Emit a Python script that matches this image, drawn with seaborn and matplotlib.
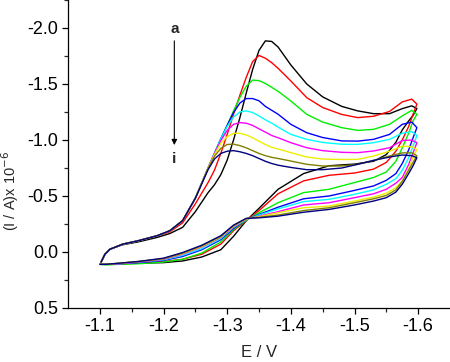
import pandas as pd
import matplotlib
matplotlib.use("Agg")
import matplotlib.pyplot as plt
import seaborn as sns

# potentials (V): forward scan grid ends at the switching tip, reverse grid follows
E_forward = [-1.102, -1.108, -1.116, -1.136, -1.16, -1.19, -1.21, -1.23, -1.25, -1.27,
             -1.28, -1.29, -1.30, -1.31, -1.32, -1.33, -1.34, -1.35, -1.36, -1.37,
             -1.38, -1.40, -1.425, -1.45, -1.48, -1.505, -1.53, -1.555, -1.575, -1.59, -1.598]
E_reverse = [-1.592, -1.585, -1.575, -1.565, -1.55, -1.53, -1.50, -1.46, -1.42, -1.38,
             -1.35, -1.33, -1.31, -1.29, -1.26, -1.23, -1.20, -1.16, -1.13, -1.11, -1.10]

start = [0.09, 0.02, -0.025, -0.07, -0.10, -0.145, -0.19, -0.28, -0.48]

# currents (x 1e-6 A), curves a..i
a_fwd = [0.09, 0.02, -0.025, -0.065, -0.09, -0.13, -0.165, -0.22, -0.36, -0.53,
         -0.60, -0.69, -0.82, -1.00, -1.20, -1.42, -1.63, -1.80, -1.885, -1.88,
         -1.83, -1.67, -1.50, -1.385, -1.30, -1.26, -1.235, -1.235, -1.28, -1.305, -1.28]
b_fwd = [0.09, 0.02, -0.025, -0.07, -0.10, -0.145, -0.18, -0.26, -0.43, -0.62,
         -0.73, -0.88, -1.05, -1.23, -1.40, -1.56, -1.70, -1.755, -1.73, -1.69,
         -1.64, -1.527, -1.378, -1.29, -1.228, -1.20, -1.212, -1.255, -1.34, -1.365, -1.32]
c_fwd = start + [-0.75, -0.88, -1.01, -1.13, -1.26, -1.38, -1.48, -1.535, -1.53, -1.505, -1.47,
                 -1.435, -1.348, -1.229, -1.16, -1.11, -1.086, -1.095, -1.14, -1.215, -1.265, -1.23]
d_fwd = start + [-0.75, -0.88, -1.01, -1.13, -1.245, -1.33, -1.37, -1.37, -1.35, -1.30, -1.265,
                 -1.23, -1.14, -1.065, -1.022, -0.992, -0.99, -1.006, -1.05, -1.14, -1.16, -1.11]
e_fwd = start + [-0.75, -0.88, -1.01, -1.12, -1.205, -1.25, -1.26, -1.245, -1.215, -1.18, -1.15,
                 -1.115, -1.05, -1.006, -0.978, -0.962, -0.961, -0.976, -1.006, -1.06, -1.075, -1.04]
f_fwd = start + [-0.75, -0.88, -0.995, -1.085, -1.14, -1.155, -1.15, -1.13, -1.10, -1.07, -1.04,
                 -1.02, -0.976, -0.931, -0.905, -0.89, -0.887, -0.902, -0.931, -0.995, -1.00, -0.975]
g_fwd = start + [-0.75, -0.87, -0.97, -1.03, -1.06, -1.06, -1.045, -1.02, -0.99, -0.96, -0.935,
                 -0.92, -0.887, -0.848, -0.83, -0.826, -0.827, -0.857, -0.90, -0.945, -0.94, -0.915]
h_fwd = start + [-0.745, -0.855, -0.925, -0.96, -0.963, -0.95, -0.93, -0.905, -0.88, -0.86, -0.845,
                 -0.835, -0.812, -0.783, -0.768, -0.768, -0.783, -0.818, -0.857, -0.885, -0.885, -0.86]
i_fwd = start + [-0.735, -0.83, -0.88, -0.90, -0.905, -0.895, -0.88, -0.86, -0.835, -0.81, -0.79,
                 -0.775, -0.755, -0.735, -0.735, -0.75, -0.783, -0.818, -0.848, -0.866, -0.86, -0.842]

a_rev = [-1.22, -1.17, -1.09, -0.98, -0.87, -0.81, -0.785, -0.77, -0.70, -0.56,
         -0.39, -0.28, -0.14, -0.02, 0.045, 0.08, 0.095, 0.10, 0.105, 0.11, 0.11]
b_rev = [-1.23, -1.12, -1.00, -0.90, -0.80, -0.74, -0.705, -0.685, -0.635, -0.52,
         -0.37, -0.28, -0.19, -0.07, 0.02, 0.065, 0.085, 0.10, 0.105, 0.11, 0.11]
c_rev = [-1.17, -1.06, -0.93, -0.81, -0.715, -0.665, -0.62, -0.56, -0.53, -0.44,
         -0.35, -0.285, -0.20, -0.09, 0.01, 0.065, 0.09, 0.105, 0.11, 0.115, 0.11]
d_rev = [-1.02, -0.91, -0.79, -0.70, -0.64, -0.59, -0.55, -0.50, -0.475, -0.40,
         -0.335, -0.29, -0.21, -0.11, -0.02, 0.04, 0.075, 0.095, 0.105, 0.11, 0.11]
e_rev = [-0.946, -0.84, -0.73, -0.655, -0.605, -0.555, -0.515, -0.47, -0.45, -0.385,
         -0.33, -0.29, -0.22, -0.12, -0.03, 0.03, 0.07, 0.09, 0.105, 0.11, 0.11]
f_rev = [-0.887, -0.78, -0.665, -0.615, -0.56, -0.52, -0.485, -0.44, -0.42, -0.36,
         -0.32, -0.295, -0.225, -0.13, -0.045, 0.02, 0.065, 0.09, 0.105, 0.11, 0.11]
g_rev = [-0.85, -0.74, -0.635, -0.575, -0.525, -0.49, -0.455, -0.41, -0.395, -0.35,
         -0.315, -0.295, -0.23, -0.135, -0.05, 0.015, 0.06, 0.085, 0.10, 0.11, 0.11]
h_rev = [-0.80, -0.73, -0.63, -0.555, -0.505, -0.475, -0.44, -0.395, -0.37, -0.33,
         -0.31, -0.30, -0.235, -0.14, -0.055, 0.01, 0.06, 0.085, 0.10, 0.11, 0.11]
i_rev = [-0.77, -0.70, -0.605, -0.535, -0.485, -0.455, -0.42, -0.38, -0.355, -0.32,
         -0.305, -0.30, -0.24, -0.145, -0.06, 0.005, 0.055, 0.085, 0.10, 0.11, 0.11]

names = ["a", "b", "c", "d", "e", "f", "g", "h", "i"]
forward = [a_fwd, b_fwd, c_fwd, d_fwd, e_fwd, f_fwd, g_fwd, h_fwd, i_fwd]
reverse = [a_rev, b_rev, c_rev, d_rev, e_rev, f_rev, g_rev, h_rev, i_rev]
colors = ["#000000", "#ff0000", "#00ee00", "#0000ff", "#00ffff",
          "#ff00ff", "#eeee00", "#808000", "#000080"]

rows = []
for n, fw, rv in zip(names, forward, reverse):
    for e, i in zip(E_forward + E_reverse, fw + rv):
        rows.append({"curve": n, "E": e, "I": i})
df = pd.DataFrame(rows)

sns.set_style("ticks")
plt.rcParams["font.family"] = ["Liberation Sans", "DejaVu Sans"]

fig = plt.figure(figsize=(4.5, 3.62), dpi=100)
ax = fig.add_axes([68 / 450, 54 / 362, 382 / 450, 308 / 362])

sns.lineplot(data=df, x="E", y="I", hue="curve", palette=colors, sort=False,
             estimator=None, legend=False, linewidth=1.0, ax=ax)

ax.set_xlim(-1.05, -1.65)
ax.set_ylim(0.5, -2.25)
ax.set_xticks([-1.1, -1.2, -1.3, -1.4, -1.5, -1.6])
ax.set_xticks([-1.15, -1.25, -1.35, -1.45, -1.55], minor=True)
ax.set_yticks([0.5, 0.0, -0.5, -1.0, -1.5, -2.0])
ax.set_yticks([0.25, -0.25, -0.75, -1.25, -1.75, -2.25], minor=True)
ax.set_xticklabels(["-1.1", "-1.2", "-1.3", "-1.4", "-1.5", "-1.6"])
ax.set_yticklabels(["0.5", "0.0", "-0.5", "-1.0", "-1.5", "-2.0"])
ax.tick_params(which="major", direction="out", length=4, width=0.9, labelsize=13,
               colors="black", pad=3)
ax.tick_params(which="minor", direction="out", length=3, width=0.9)
sns.despine(ax=ax)
for s in ["left", "bottom"]:
    ax.spines[s].set_linewidth(0.9)
    ax.spines[s].set_color("black")

ax.set_xlabel("E / V", fontsize=12)
ax.set_ylabel(r"(I / A)x 10$^{-6}$", fontsize=10.5)
ax.xaxis.set_label_coords(0.5, -0.12)
ax.yaxis.set_label_coords(-0.122, 0.38)

ax.annotate("", xy=(-1.217, -0.93), xytext=(-1.217, -1.91),
            arrowprops=dict(arrowstyle="-|>", lw=0.8, color="black", mutation_scale=8))
ax.text(-1.217, -1.99, "a", ha="center", va="center", fontsize=11, fontweight="bold")
ax.text(-1.217, -0.83, "i", ha="center", va="center", fontsize=11, fontweight="bold")

fig.savefig("out.png", dpi=100)
